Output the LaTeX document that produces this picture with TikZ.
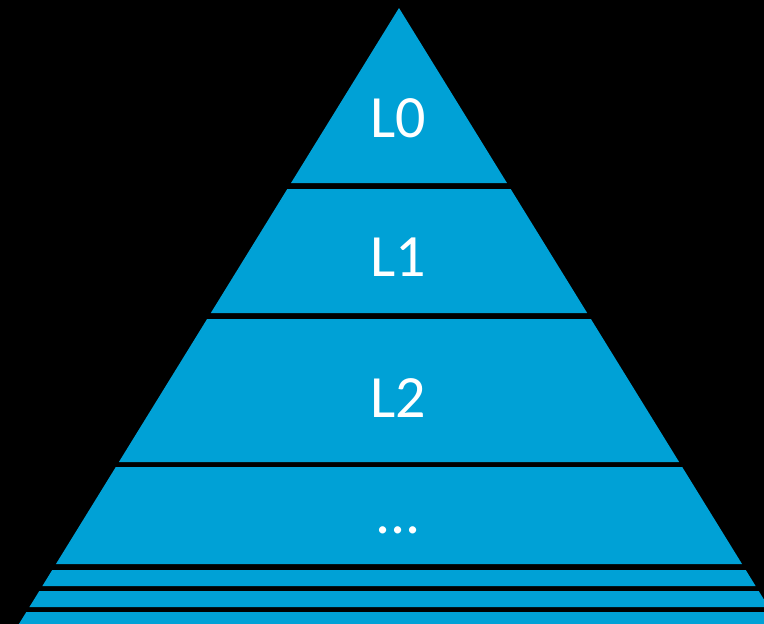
\documentclass[tikz,border=0pt]{standalone}
\usepackage{fontspec}
\setmainfont{Carlito}
\definecolor{pyrblue}{RGB}{0,161,214}
\begin{document}
\begin{tikzpicture}[x=1pt,y=-1pt,
  band/.style={fill=pyrblue,draw=none},
  lbl/.style={text=white,font=\fontsize{60}{60}\selectfont,anchor=base,inner sep=0pt}]
\fill[black] (0,0) rectangle (764,624);
\useasboundingbox (0,0) rectangle (764,624);
\begin{scope}
\clip (0,0) rectangle (764,624);
\foreach \t/\b in {8/183,189/313,319/462,467/564,570/586,591/607,612/630}{
  \pgfmathsetmacro{\wt}{0.617*(\t-8)}
  \pgfmathsetmacro{\wb}{0.617*(\b-8)}
  \fill[band] (399-\wt,\t) -- (399+\wt,\t) -- (399+\wb,\b) -- (399-\wb,\b) -- cycle;
}
\end{scope}
\node[lbl] (l0) at (398,137) {L0};
\node[lbl] (l1) at (398,276) {L1};
\node[lbl] (l2) at (398,417) {L2};
\node[lbl] (dots) at (398,533) {...};
\end{tikzpicture}
\end{document}
